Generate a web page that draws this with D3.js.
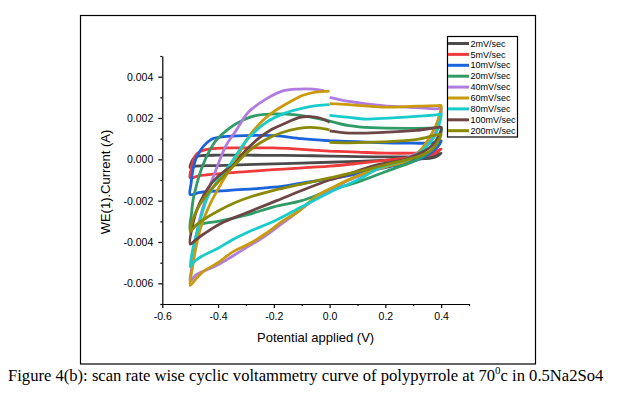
<!DOCTYPE html>
<html lang="en">
<head>
    <meta charset="UTF-8">
    <title>Scan rate wise cyclic voltammetry of polypyrrole</title>
    <script src="https://d3js.org/d3.v7.min.js"></script>
    <style>
        body { margin: 0; background: #fff; }
        .axis text { font-family: "Liberation Sans", Arial, sans-serif; font-size: 10.5px; fill: #000; }
        .axis path, .axis line { stroke: #000; stroke-width: 1.2px; }
        .title { font-family: "Liberation Sans", Arial, sans-serif; font-size: 13px; fill: #000; }
        .legend text { font-family: "Liberation Sans", Arial, sans-serif; font-size: 9px; fill: #000; }
        .caption { font-family: "Liberation Serif", "Times New Roman", serif; font-size: 16.6px; fill: #000; }
    </style>
</head>
<body>
<div id="chart"></div>
<script>
    // scan rates (legend order = drawing order)
    const rates = ["2mV/sec", "5mV/sec", "10mV/sec", "20mV/sec", "40mV/sec",
                   "60mV/sec", "80mV/sec", "100mV/sec", "200mV/sec"];

    // each loop: [potential (V), current (A)], starting at 0 V on the anodic side,
    // out to 0.4 V, back down to -0.5 V, then up again towards 0 V
    const cv2 = [[0.0,0.00016],[0.1,0.00013],[0.2,0.00012],[0.3,0.00012],[0.37,0.00018],[0.4,0.0003],
        [0.38,0.00012],[0.34,0.00003],[0.3,0.0],[0.2,-0.00005],[0.1,-0.0001],[0.0,-0.00014],[-0.2,-0.00022],
        [-0.4,-0.0003],[-0.48,-0.00033],[-0.5,-0.0004],
        [-0.497,-0.0002],[-0.49,0.0],[-0.48,0.00012],[-0.46,0.00018],[-0.4,0.0002],[-0.3,0.0002],
        [-0.2,0.00019],[-0.1,0.00018],[0.0,0.00016]];
    const cv5 = [[0.0,0.0004],[0.1,0.00035],[0.2,0.0003],[0.3,0.0003],[0.37,0.00033],[0.4,0.0005],
        [0.38,0.0003],[0.34,0.00015],[0.3,0.00008],[0.23,0.0],[0.1,-0.0002],[0.0,-0.00033],[-0.2,-0.0005],
        [-0.4,-0.0007],[-0.47,-0.0008],[-0.5,-0.0009],
        [-0.497,-0.0005],[-0.49,-0.0001],[-0.48,0.0002],[-0.46,0.0004],[-0.42,0.00052],[-0.3,0.00055],
        [-0.2,0.00055],[-0.1,0.00048],[0.0,0.0004]];
    const cv10 = [[0.0,0.0009],[0.1,0.00085],[0.2,0.0008],[0.3,0.00078],[0.37,0.0008],[0.4,0.0009],
        [0.38,0.0005],[0.35,0.0002],[0.3,-0.0001],[0.2,-0.0004],[0.1,-0.0007],[0.0,-0.00095],[-0.1,-0.00115],
        [-0.2,-0.00135],[-0.36,-0.0015],[-0.465,-0.0016],[-0.5,-0.0017],
        [-0.497,-0.0012],[-0.49,-0.0005],[-0.48,0.0],[-0.46,0.0005],[-0.44,0.0008],[-0.42,0.001],
        [-0.38,0.0011],[-0.3,0.00115],[-0.2,0.00115],[-0.1,0.001],[0.0,0.0009]];
    const cv20 = [[0.0,0.00185],[0.07,0.00163],[0.15,0.00153],[0.3,0.0015],[0.38,0.00152],[0.4,0.00155],
        [0.39,0.0009],[0.37,0.0005],[0.33,0.0001],[0.3,-0.0001],[0.2,-0.0006],[0.1,-0.0011],[0.0,-0.0015],
        [-0.1,-0.002],[-0.2,-0.0023],[-0.3,-0.0027],[-0.4,-0.003],[-0.45,-0.0031],[-0.48,-0.0032],[-0.5,-0.0034],
        [-0.495,-0.0026],[-0.49,-0.002],[-0.48,-0.0014],[-0.47,-0.0009],[-0.455,-0.0003],[-0.435,0.0003],
        [-0.405,0.00095],[-0.36,0.0015],[-0.31,0.0019],[-0.26,0.00213],[-0.19,0.0022],[-0.12,0.00215],
        [-0.05,0.002],[0.0,0.00185]];
    const cv40 = [[0.0,0.003],[0.07,0.0028],[0.19,0.0026],[0.31,0.0025],[0.39,0.00245],[0.4,0.0025],
        [0.395,0.0019],[0.38,0.0013],[0.35,0.0007],[0.3,0.0002],[0.23,-0.0002],[0.15,-0.0006],[0.07,-0.001],
        [0.0,-0.0015],[-0.05,-0.0019],[-0.11,-0.0025],[-0.17,-0.0031],[-0.23,-0.0037],[-0.29,-0.0042],
        [-0.35,-0.0047],[-0.4,-0.0051],[-0.45,-0.0054],[-0.48,-0.0056],[-0.5,-0.0059],
        [-0.495,-0.0053],[-0.49,-0.0047],[-0.48,-0.0038],[-0.46,-0.0026],[-0.43,-0.0013],[-0.41,-0.0006],
        [-0.39,0.0001],[-0.37,0.0007],[-0.335,0.0014],[-0.29,0.0023],[-0.23,0.0029],[-0.17,0.0033],
        [-0.11,0.0034],[-0.06,0.0034],[-0.02,0.00333]];
    const cv60 = [[0.0,0.0027],[0.07,0.00265],[0.19,0.00253],[0.31,0.00257],[0.39,0.0026],[0.4,0.0026],
        [0.395,0.0022],[0.38,0.0016],[0.36,0.0011],[0.33,0.0005],[0.3,0.0001],[0.25,-0.0002],[0.19,-0.0004],
        [0.1,-0.0008],[0.02,-0.0013],[-0.05,-0.0018],[-0.11,-0.0025],[-0.17,-0.003],[-0.23,-0.0036],
        [-0.29,-0.0041],[-0.35,-0.0045],[-0.4,-0.005],[-0.45,-0.0054],[-0.48,-0.0058],[-0.5,-0.0061],
        [-0.49,-0.0051],[-0.48,-0.0043],[-0.46,-0.0032],[-0.43,-0.0022],[-0.39,-0.0012],[-0.34,-0.0001],
        [-0.29,0.0011],[-0.23,0.002],[-0.19,0.0024],[-0.14,0.0028],[-0.095,0.0031],[-0.05,0.00325],[0.0,0.0033]];
    const cv80 = [[0.0,0.00213],[0.07,0.00203],[0.13,0.00195],[0.19,0.00198],[0.31,0.00208],[0.39,0.00216],[0.4,0.0022],
        [0.395,0.0018],[0.38,0.0012],[0.36,0.0008],[0.33,0.0004],[0.28,0.0],[0.19,-0.00035],[0.1,-0.001],
        [0.0,-0.0016],[-0.1,-0.0023],[-0.2,-0.003],[-0.29,-0.0035],[-0.35,-0.0039],[-0.4,-0.0043],
        [-0.46,-0.0047],[-0.49,-0.005],[-0.5,-0.0052],
        [-0.49,-0.0043],[-0.475,-0.0035],[-0.44,-0.0019],[-0.41,-0.0012],[-0.36,-0.0003],[-0.31,0.0007],
        [-0.286,0.0011],[-0.226,0.0018],[-0.167,0.0022],[-0.107,0.00244],[-0.048,0.0026],[0.0,0.00265]];
    const cv100 = [[0.0,0.00138],[0.07,0.00127],[0.19,0.0013],[0.31,0.0014],[0.39,0.00155],[0.4,0.00155],
        [0.39,0.0011],[0.37,0.0007],[0.34,0.0004],[0.27,0.0],[0.16,-0.0003],[0.05,-0.0008],[0.0,-0.001],
        [-0.08,-0.0014],[-0.19,-0.002],[-0.3,-0.0026],[-0.39,-0.0031],[-0.45,-0.0036],[-0.48,-0.0039],[-0.5,-0.0041],
        [-0.49,-0.0031],[-0.475,-0.0024],[-0.45,-0.0017],[-0.42,-0.0011],[-0.38,-0.0006],[-0.346,-0.0003],
        [-0.31,0.0003],[-0.26,0.00095],[-0.21,0.00143],[-0.167,0.0017],[-0.107,0.00203],[-0.07,0.00207],
        [-0.035,0.002],[0.0,0.0018]];
    const cv200 = [[0.0,0.00082],[0.07,0.0008],[0.19,0.00084],[0.31,0.00095],[0.39,0.0012],[0.4,0.0012],
        [0.39,0.0009],[0.37,0.0005],[0.33,0.0002],[0.28,0.0],[0.19,-0.0003],[0.1,-0.0006],[0.0,-0.0009],
        [-0.1,-0.0012],[-0.2,-0.0015],[-0.28,-0.0018],[-0.34,-0.0021],[-0.4,-0.0025],[-0.45,-0.0029],
        [-0.48,-0.0032],[-0.5,-0.0035],
        [-0.49,-0.0029],[-0.47,-0.0023],[-0.44,-0.0017],[-0.4,-0.0011],[-0.35,-0.0004],[-0.29,0.0004],
        [-0.23,0.00095],[-0.17,0.0013],[-0.11,0.0015],[-0.07,0.00155],[-0.03,0.0015],[0.0,0.00143]];

    const loops = [cv2, cv5, cv10, cv20, cv40, cv60, cv80, cv100, cv200];

    // axis ticks
    const xTicks = [-0.6, -0.4, -0.2, 0.0, 0.2, 0.4];
    const xMinor = [-0.5, -0.3, -0.1, 0.1, 0.3, 0.5];
    const yTicks = [-0.006, -0.004, -0.002, 0.0, 0.002, 0.004];
    const yMinor = [-0.007, -0.005, -0.003, -0.001, 0.001, 0.003, 0.005];

    const colors = ["#4b4b4b", "#ef3b3b", "#1a63dc", "#2f9b66", "#b07ce0",
                    "#c99a0c", "#19cccc", "#6e4545", "#8b8a06"];

    const width = 617, height = 396;
    const plot = { left: 162.3, right: 469, top: 56, bottom: 304 };

    const svg = d3.select("#chart").append("svg")
        .attr("width", width)
        .attr("height", height);

    // outer frame of the figure
    svg.append("rect")
        .attr("x", 80.5).attr("y", 15.5)
        .attr("width", 455).attr("height", 348.5)
        .attr("fill", "none").attr("stroke", "#000").attr("stroke-width", 1.2);

    const x = d3.scaleLinear().domain([-0.6, 0.5]).range([plot.left, plot.right]);
    const y = d3.scaleLinear().domain([-0.007, 0.005]).range([plot.bottom, plot.top]);

    // minor ticks first, then major axes
    svg.append("g").attr("class", "axis")
        .attr("transform", `translate(0,${plot.bottom})`)
        .call(d3.axisBottom(x).tickValues(xMinor).tickSize(2).tickSizeOuter(0).tickFormat(""))
        .call(g => g.select(".domain").remove());
    svg.append("g").attr("class", "axis")
        .attr("transform", `translate(${plot.left},0)`)
        .call(d3.axisLeft(y).tickValues(yMinor).tickSize(2).tickSizeOuter(0).tickFormat(""))
        .call(g => g.select(".domain").remove());

    svg.append("g").attr("class", "axis")
        .attr("transform", `translate(0,${plot.bottom})`)
        .call(d3.axisBottom(x).tickValues(xTicks).tickSize(4).tickSizeOuter(0)
            .tickPadding(5).tickFormat(d => d.toFixed(1)));
    svg.append("g").attr("class", "axis")
        .attr("transform", `translate(${plot.left},0)`)
        .call(d3.axisLeft(y).tickValues(yTicks).tickSize(4).tickSizeOuter(0)
            .tickPadding(5).tickFormat(d => d.toFixed(3)));

    // CV loops
    const line = d3.line()
        .x(d => x(d[0]))
        .y(d => y(d[1]))
        .curve(d3.curveCatmullRom.alpha(0.5));

    svg.append("g").selectAll("path")
        .data(loops)
        .join("path")
        .attr("d", line)
        .attr("fill", "none")
        .attr("stroke", (d, i) => colors[i])
        .attr("stroke-width", 2.8)
        .attr("stroke-linejoin", "round");

    // axis titles
    svg.append("text").attr("class", "title")
        .attr("x", (plot.left + plot.right) / 2).attr("y", 342)
        .attr("text-anchor", "middle")
        .text("Potential applied (V)");
    svg.append("text").attr("class", "title")
        .attr("transform", `translate(110,${(plot.top + plot.bottom) / 2 + 2}) rotate(-90)`)
        .attr("text-anchor", "middle")
        .text("WE(1).Current (A)");

    // legend
    const legend = svg.append("g").attr("class", "legend");
    legend.append("rect")
        .attr("x", 447.5).attr("y", 36.5)
        .attr("width", 70).attr("height", 100.5)
        .attr("fill", "#fff").attr("stroke", "#000").attr("stroke-width", 1.2);
    const item = legend.selectAll("g.item")
        .data(rates)
        .join("g")
        .attr("class", "item")
        .attr("transform", (d, i) => `translate(0,${43.5 + i * 10.9})`);
    item.append("line")
        .attr("x1", 448).attr("x2", 469)
        .attr("stroke", (d, i) => colors[i])
        .attr("stroke-width", 3);
    item.append("text")
        .attr("x", 470.5).attr("dy", "0.35em")
        .text(d => d);

    // figure caption
    const cap = svg.append("text").attr("class", "caption")
        .attr("x", 8).attr("y", 381);
    cap.append("tspan").text("Figure 4(b): scan rate wise cyclic voltammetry curve of polypyrrole at 70");
    cap.append("tspan").attr("dy", -7).style("font-size", "11px").text("0");
    cap.append("tspan").attr("dy", 7).text("c in 0.5Na2So4");
</script>
</body>
</html>
